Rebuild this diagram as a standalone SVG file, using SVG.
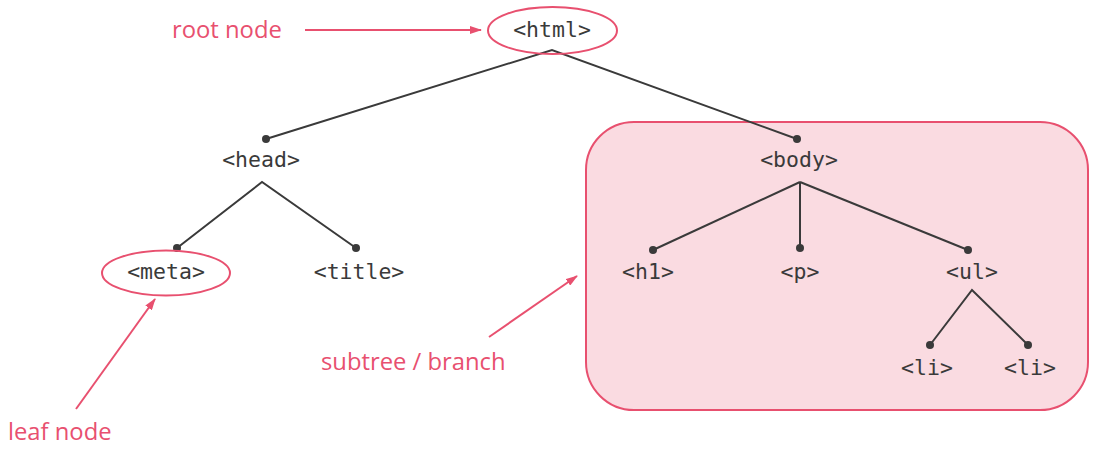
<svg xmlns="http://www.w3.org/2000/svg" width="1102" height="454" viewBox="0 0 1102 454">
<style>
.tag{font-family:"DejaVu Sans Mono",monospace;font-size:21.5px;fill:#3a3a3a;text-anchor:middle}
.lbl{font-family:"Open Sans",sans-serif;font-size:23.8px;fill:#e8506f}
.edge{stroke:#3a3a3a;stroke-width:2;fill:none}
.ann{stroke:#e8506f;stroke-width:2;fill:none}
.ring{stroke:#e8506f;stroke-width:2;fill:none}
.dot{fill:#3a3a3a}
</style>
<defs>
<marker id="ah" viewBox="0 0 12 8" refX="11" refY="4" markerWidth="12" markerHeight="8" markerUnits="userSpaceOnUse" orient="auto">
<path d="M0,0 L12,4 L0,8 z" fill="#e8506f"/>
</marker>
</defs>
<rect id="subtree" x="586" y="122" width="502" height="288" rx="48" ry="48" fill="#fadbe1" stroke="#e8506f" stroke-width="2"/>
<g id="connectors">
<polyline class="edge" points="266,139 552,50 797,139"/>
<polyline class="edge" points="177,248 262,182 356,248"/>
<line class="edge" x1="800" y1="182" x2="653" y2="250"/>
<line class="edge" x1="800" y1="182" x2="800" y2="248"/>
<line class="edge" x1="800" y1="182" x2="968" y2="250"/>
<polyline class="edge" points="930,345 972,290 1028,345"/>
<circle class="dot" cx="266" cy="139" r="4"/>
<circle class="dot" cx="797" cy="139" r="4"/>
<circle class="dot" cx="177" cy="248" r="4"/>
<circle class="dot" cx="356" cy="248" r="4"/>
<circle class="dot" cx="653" cy="250" r="4"/>
<circle class="dot" cx="800" cy="248" r="4"/>
<circle class="dot" cx="968" cy="250" r="4"/>
<circle class="dot" cx="930" cy="345" r="4"/>
<circle class="dot" cx="1028" cy="345" r="4"/>
<line class="ann" x1="305" y1="30" x2="481" y2="30" marker-end="url(#ah)"/>
<line class="ann" x1="76" y1="409" x2="155" y2="299" marker-end="url(#ah)"/>
<line class="ann" x1="489" y1="337" x2="577" y2="276" marker-end="url(#ah)"/>
</g>
<g id="n-html"><ellipse class="ring" cx="552.5" cy="30.5" rx="64.5" ry="23.5"/><text class="tag" x="552" y="37">&lt;html&gt;</text></g>
<g id="n-head"><text class="tag" x="261" y="167">&lt;head&gt;</text></g>
<g id="n-body"><text class="tag" x="799" y="167">&lt;body&gt;</text></g>
<g id="n-meta"><ellipse class="ring" cx="166" cy="273" rx="64" ry="22.5"/><text class="tag" x="166" y="279">&lt;meta&gt;</text></g>
<g id="n-title"><text class="tag" x="359" y="279">&lt;title&gt;</text></g>
<g id="n-h1"><text class="tag" x="648" y="279">&lt;h1&gt;</text></g>
<g id="n-p"><text class="tag" x="800" y="279">&lt;p&gt;</text></g>
<g id="n-ul"><text class="tag" x="972" y="279">&lt;ul&gt;</text></g>
<g id="n-li1"><text class="tag" x="927" y="375">&lt;li&gt;</text></g>
<g id="n-li2"><text class="tag" x="1030" y="375">&lt;li&gt;</text></g>
<g id="labels">
<text class="lbl" x="172" y="38">root node</text>
<text class="lbl" x="8" y="440">leaf node</text>
<text class="lbl" x="321" y="370">subtree / branch</text>
</g>
</svg>
